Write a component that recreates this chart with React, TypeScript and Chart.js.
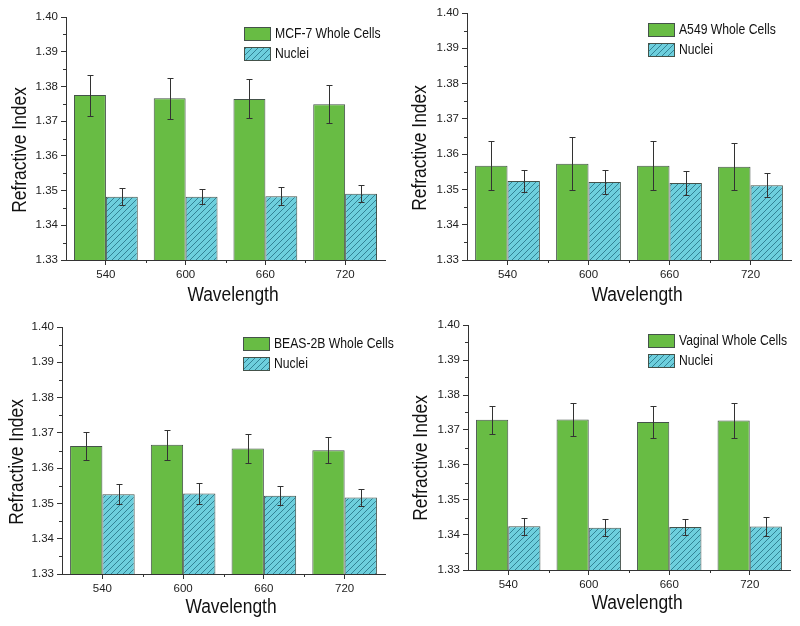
import React, { useEffect, useRef } from 'react';
import { Chart, registerables } from 'chart.js';
Chart.register(...registerables);

// ---------- data ----------
const wavelengths = ['540', '600', '660', '720'];
const yMin = 1.33;
const yMax = 1.40;
const yStep = 0.01;

const mcf7Label = 'MCF-7 Whole Cells';
const mcf7Whole = [1.3775, 1.3766, 1.3764, 1.3749];
const mcf7WholeErr = [0.0059, 0.0059, 0.0056, 0.0054];
const mcf7Nuclei = [1.3482, 1.3482, 1.3484, 1.3491];
const mcf7NucleiErr = [0.0025, 0.0022, 0.0027, 0.0024];

const a549Label = 'A549 Whole Cells';
const a549Whole = [1.3567, 1.3573, 1.3567, 1.3564];
const a549WholeErr = [0.0069, 0.0076, 0.0070, 0.0067];
const a549Nuclei = [1.3524, 1.3521, 1.3518, 1.3512];
const a549NucleiErr = [0.0030, 0.0034, 0.0033, 0.0034];

const beasLabel = 'BEAS-2B Whole Cells';
const beasWhole = [1.3663, 1.3666, 1.3656, 1.3651];
const beasWholeErr = [0.0040, 0.0043, 0.0041, 0.0037];
const beasNuclei = [1.3526, 1.3528, 1.3522, 1.3517];
const beasNucleiErr = [0.0028, 0.0029, 0.0027, 0.0024];

const vagLabel = 'Vaginal Whole Cells';
const vagWhole = [1.3729, 1.3730, 1.3723, 1.3727];
const vagWholeErr = [0.0040, 0.0047, 0.0045, 0.0051];
const vagNuclei = [1.3425, 1.3421, 1.3423, 1.3424];
const vagNucleiErr = [0.0025, 0.0025, 0.0024, 0.0028];

const nucleiLabel = 'Nuclei';
const xTitleText = 'Wavelength';
const yTitleText = 'Refractive Index';

// ---------- style ----------
const GREEN = '#68BC44';
const CYAN = '#6DCFDD';
const HATCH = '#2C7A8C';
const BORDER = '#44524A';
const AXIS = '#333333';
const FONT = 'Arial, "Liberation Sans", sans-serif';
const W = 400;
const H = 313;
const SQUEEZE = 0.87;

function makeHatch(ctx: CanvasRenderingContext2D) {
  const s = 6;
  const c = document.createElement('canvas');
  c.width = s;
  c.height = s;
  const g = c.getContext('2d')!;
  g.fillStyle = CYAN;
  g.fillRect(0, 0, s, s);
  g.strokeStyle = HATCH;
  g.lineWidth = 0.9;
  g.beginPath();
  g.moveTo(0, s);
  g.lineTo(s, 0);
  g.moveTo(-1, 1);
  g.lineTo(1, -1);
  g.moveTo(s - 1, s + 1);
  g.lineTo(s + 1, s - 1);
  g.stroke();
  return ctx.createPattern(c, 'repeat')!;
}

function squeezedText(ctx: CanvasRenderingContext2D, text: string, x: number, y: number, rot: number) {
  ctx.save();
  ctx.translate(x, y);
  if (rot) ctx.rotate(rot);
  ctx.scale(SQUEEZE, 1);
  ctx.fillText(text, 0, 0);
  ctx.restore();
}

type PanelCfg = {
  label: string;
  whole: number[];
  wholeErr: number[];
  nuclei: number[];
  nucleiErr: number[];
  left: number;
  top: number;
  area: { L: number; T: number; R: number; B: number };
  legend: { x: number; y: number };
  xTitle: { x: number; y: number };
  yTitle: { x: number; y: number };
};

function Panel({ cfg }: { cfg: PanelCfg }) {
  const ref = useRef<HTMLCanvasElement>(null);
  useEffect(() => {
    const canvas = ref.current!;
    const ctx0 = canvas.getContext('2d')!;
    const hatch = makeHatch(ctx0);
    const errs = [cfg.wholeErr, cfg.nucleiErr];

    const overlay = {
      id: 'overlay',
      afterDatasetsDraw(chart: any) {
        const ctx = chart.ctx;
        const ys = chart.scales.y;
        ctx.save();
        ctx.strokeStyle = AXIS;
        ctx.lineWidth = 1;
        chart.data.datasets.forEach((ds: any, di: number) => {
          const meta = chart.getDatasetMeta(di);
          meta.data.forEach((bar: any, i: number) => {
            const v = ds.data[i];
            const e = errs[di][i];
            const x = Math.round(bar.x) + 0.5;
            const yt = Math.round(ys.getPixelForValue(v + e)) + 0.5;
            const yb = Math.round(ys.getPixelForValue(v - e)) + 0.5;
            ctx.beginPath();
            ctx.moveTo(x, yt);
            ctx.lineTo(x, yb);
            ctx.moveTo(x - 3, yt);
            ctx.lineTo(x + 3, yt);
            ctx.moveTo(x - 3, yb);
            ctx.lineTo(x + 3, yb);
            ctx.stroke();
          });
        });
        ctx.restore();
      },
      afterDraw(chart: any) {
        const ctx = chart.ctx;
        const ys = chart.scales.y;
        const xs = chart.scales.x;
        const ca = chart.chartArea;
        ctx.save();
        // minor ticks
        ctx.strokeStyle = AXIS;
        ctx.lineWidth = 1;
        ctx.beginPath();
        for (let k = 0; k < Math.round((yMax - yMin) / yStep); k++) {
          const v = yMin + (k + 0.5) * yStep;
          const py = Math.round(ys.getPixelForValue(v)) + 0.5;
          ctx.moveTo(ca.left - 3, py);
          ctx.lineTo(ca.left, py);
        }
        const n = wavelengths.length;
        for (let i = 1; i < n; i++) {
          const px = Math.round((xs.getPixelForValue(i - 1) + xs.getPixelForValue(i)) / 2) + 0.5;
          ctx.moveTo(px, ca.bottom);
          ctx.lineTo(px, ca.bottom + 3);
        }
        ctx.stroke();

        // legend
        const lx = cfg.legend.x;
        const ly = cfg.legend.y;
        const items = [
          { text: cfg.label, fill: GREEN },
          { text: nucleiLabel, fill: hatch },
        ];
        items.forEach((it, j) => {
          const by = ly + j * 20;
          ctx.fillStyle = it.fill;
          ctx.fillRect(lx, by, 27, 14);
          ctx.strokeStyle = BORDER;
          ctx.lineWidth = 1;
          ctx.strokeRect(lx + 0.5, by + 0.5, 26, 13);
          ctx.fillStyle = '#111';
          ctx.font = `14px ${FONT}`;
          ctx.textAlign = 'left';
          ctx.textBaseline = 'middle';
          squeezedText(ctx, it.text, lx + 31, by + 7.5, 0);
        });

        // axis titles
        ctx.fillStyle = '#111';
        ctx.font = `20px ${FONT}`;
        ctx.textAlign = 'center';
        ctx.textBaseline = 'middle';
        squeezedText(ctx, xTitleText, cfg.xTitle.x, cfg.xTitle.y, 0);
        squeezedText(ctx, yTitleText, cfg.yTitle.x, cfg.yTitle.y, -Math.PI / 2);
        ctx.restore();
      },
    };

    const a = cfg.area;
    const chart = new Chart(canvas, {
      type: 'bar',
      data: {
        labels: wavelengths,
        datasets: [
          {
            label: cfg.label,
            data: cfg.whole,
            backgroundColor: GREEN,
            borderColor: BORDER,
            borderWidth: 1,
            barPercentage: 1,
            categoryPercentage: 0.8,
          },
          {
            label: nucleiLabel,
            data: cfg.nuclei,
            backgroundColor: hatch as any,
            borderColor: BORDER,
            borderWidth: 1,
            barPercentage: 1,
            categoryPercentage: 0.8,
          },
        ],
      },
      options: {
        responsive: false,
        animation: false,
        devicePixelRatio: 1,
        layout: { padding: { left: 0, top: a.T, right: W - a.R, bottom: 0 } },
        plugins: { legend: { display: false }, tooltip: { enabled: false } },
        scales: {
          x: {
            offset: true,
            grid: {
              offset: false,
              drawOnChartArea: false,
              drawTicks: true,
              tickLength: 5,
              tickColor: AXIS,
            },
            border: { display: true, color: AXIS, width: 1 },
            ticks: { color: '#222', font: { family: FONT, size: 11.5 }, padding: 3, maxRotation: 0 },
            afterFit: (s: any) => {
              s.height = H - a.B;
            },
          },
          y: {
            min: yMin,
            max: yMax,
            grid: {
              drawOnChartArea: false,
              drawTicks: true,
              tickLength: 5,
              tickColor: AXIS,
            },
            border: { display: true, color: AXIS, width: 1 },
            ticks: {
              stepSize: yStep,
              color: '#222',
              font: { family: FONT, size: 11.5 },
              padding: 3,
              callback: (v: any) => Number(v).toFixed(2),
            },
            afterFit: (s: any) => {
              s.width = a.L;
            },
          },
        },
      },
      plugins: [overlay],
    });
    return () => chart.destroy();
  }, [cfg]);
  return (
    <canvas
      ref={ref}
      width={W}
      height={H}
      style={{ position: 'absolute', left: cfg.left, top: cfg.top, width: W, height: H }}
    />
  );
}

const panels: PanelCfg[] = [
  {
    label: mcf7Label, whole: mcf7Whole, wholeErr: mcf7WholeErr, nuclei: mcf7Nuclei, nucleiErr: mcf7NucleiErr,
    left: 0, top: 0,
    area: { L: 66, T: 17, R: 385, B: 260 },
    legend: { x: 244, y: 27 },
    xTitle: { x: 233, y: 295 },
    yTitle: { x: 20, y: 150 },
  },
  {
    label: a549Label, whole: a549Whole, wholeErr: a549WholeErr, nuclei: a549Nuclei, nucleiErr: a549NucleiErr,
    left: 400, top: 0,
    area: { L: 67, T: 13, R: 391, B: 260 },
    legend: { x: 248, y: 23 },
    xTitle: { x: 237, y: 295 },
    yTitle: { x: 20, y: 148 },
  },
  {
    label: beasLabel, whole: beasWhole, wholeErr: beasWholeErr, nuclei: beasNuclei, nucleiErr: beasNucleiErr,
    left: 0, top: 313,
    area: { L: 62, T: 14, R: 385, B: 261 },
    legend: { x: 243, y: 24 },
    xTitle: { x: 231, y: 294 },
    yTitle: { x: 17, y: 149 },
  },
  {
    label: vagLabel, whole: vagWhole, wholeErr: vagWholeErr, nuclei: vagNuclei, nucleiErr: vagNucleiErr,
    left: 400, top: 313,
    area: { L: 68, T: 12, R: 390, B: 257 },
    legend: { x: 248, y: 21 },
    xTitle: { x: 237, y: 290 },
    yTitle: { x: 21, y: 145 },
  },
];

export default function App() {
  return (
    <div style={{ position: 'absolute', left: 0, top: 0, width: 800, height: 626, background: '#fff' }}>
      {panels.map((p, i) => (
        <Panel key={i} cfg={p} />
      ))}
    </div>
  );
}
